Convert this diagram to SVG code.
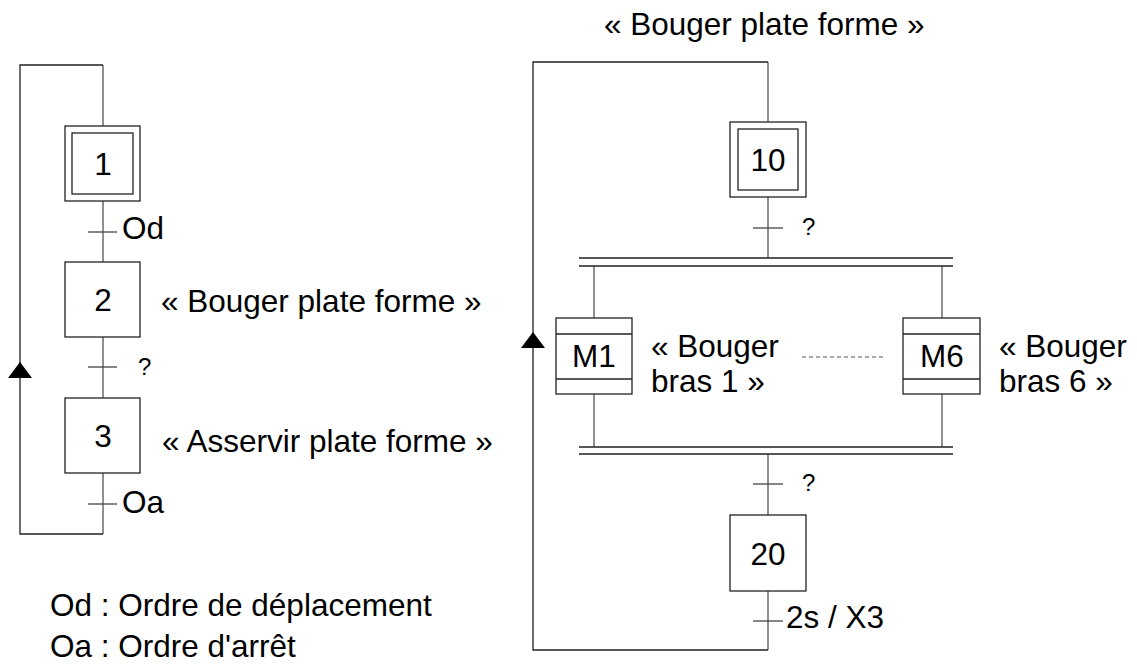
<svg xmlns="http://www.w3.org/2000/svg" width="1137" height="668" viewBox="0 0 1137 668">
<style>
text{font-family:"Liberation Sans",Arial,sans-serif;fill:#000}
.t{font-size:31.5px}
.q{font-size:24px}
.c{text-anchor:middle}
.box{fill:#fff;stroke:#222;stroke-width:1.3}
.ln{fill:none;stroke:#555;stroke-width:1.3}
.lp{fill:none;stroke:#222;stroke-width:1.3}
.tk{stroke:#444;stroke-width:1.3}
.dot{stroke:#555;stroke-width:1;stroke-dasharray:4 3}
</style>
<defs>
<marker id="ar" viewBox="0 0 24 16" markerWidth="24" markerHeight="16" refX="12" refY="0" markerUnits="userSpaceOnUse" orient="0">
<path d="M0,16 L12,0 L24,16 Z" fill="#000"/>
</marker>
</defs>
<g id="connectors">
<path class="ln" d="M103,65 V126 M103,201 V262 M103,337 V398 M103,473 V534"/>
<path class="lp" d="M103,534 H20 V65 H103"/>
<path d="M20,378 L8,378 L20,362 L32,378 Z" fill="#000"/>
<line class="tk" x1="88" y1="232" x2="117" y2="232"/>
<line class="tk" x1="88" y1="367" x2="117" y2="367"/>
<line class="tk" x1="88" y1="504" x2="117" y2="504"/>
<path class="ln" d="M768,62 V122 M768,197 V258 M594,266 V318 M942,266 V318 M594,394 V447 M942,394 V447 M768,454 V515 M768,591 V650"/>
<path class="lp" d="M768,650 H533 V62 H768"/>
<path d="M533,332 L545,348 L521,348 Z" fill="#000"/>
<line class="tk" x1="753" y1="228" x2="783" y2="228"/>
<line class="tk" x1="753" y1="484" x2="783" y2="484"/>
<line class="tk" x1="753" y1="621" x2="783" y2="621"/>
<path class="lp" d="M579,258 H953 M579,266 H953 M579,447 H953 M579,454 H953"/>
<line class="dot" x1="802" y1="357" x2="884" y2="357"/>
</g>
<g id="step1">
<rect class="box" x="65" y="126" width="75" height="75"/>
<rect class="box" x="72" y="133" width="61" height="61"/>
<text class="t c" x="103" y="175">1</text>
</g>
<g id="step2">
<rect class="box" x="65" y="262" width="75" height="75"/>
<text class="t c" x="103" y="311">2</text>
<text class="t" x="161" y="312">« Bouger plate forme »</text>
</g>
<g id="step3">
<rect class="box" x="65" y="398" width="75" height="75"/>
<text class="t c" x="103" y="447">3</text>
<text class="t" x="162" y="452">« Asservir plate forme »</text>
</g>
<g id="trans-left">
<text class="t" x="122" y="239">Od</text>
<text class="q" x="138" y="375">?</text>
<text class="t" x="122" y="513">Oa</text>
</g>
<g id="legend">
<text class="t" x="50" y="616">Od : Ordre de déplacement</text>
<text class="t" x="50" y="657">Oa : Ordre d'arrêt</text>
</g>
<g id="title">
<text class="t" x="604" y="35">« Bouger plate forme »</text>
</g>
<g id="step10">
<rect class="box" x="730" y="122" width="76" height="75"/>
<rect class="box" x="738" y="129" width="60" height="61"/>
<text class="t c" x="768" y="171">10</text>
</g>
<g id="stepM1">
<rect class="box" x="556" y="318" width="76" height="76"/>
<line class="lp" x1="556" y1="334" x2="632" y2="334"/>
<line class="lp" x1="556" y1="379" x2="632" y2="379"/>
<text class="t c" x="594" y="367">M1</text>
<text class="t" x="651" y="357">« Bouger</text>
<text class="t" x="651" y="392">bras 1 »</text>
</g>
<g id="stepM6">
<rect class="box" x="903" y="318" width="77" height="76"/>
<line class="lp" x1="903" y1="334" x2="980" y2="334"/>
<line class="lp" x1="903" y1="379" x2="980" y2="379"/>
<text class="t c" x="942" y="367">M6</text>
<text class="t" x="999" y="357">« Bouger</text>
<text class="t" x="999" y="392">bras 6 »</text>
</g>
<g id="step20">
<rect class="box" x="730" y="515" width="76" height="76"/>
<text class="t c" x="768" y="565">20</text>
</g>
<g id="trans-right">
<text class="q" x="802" y="235">?</text>
<text class="q" x="802" y="491">?</text>
<text class="t" x="786" y="628">2s / X3</text>
</g>
</svg>
